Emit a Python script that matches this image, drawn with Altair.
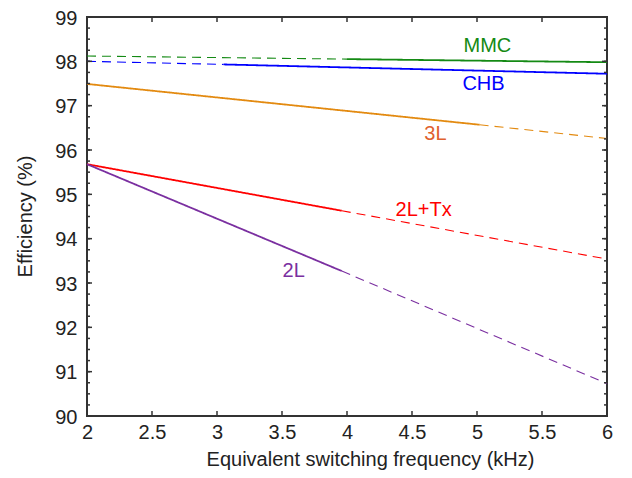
import altair as alt
import pandas as pd

# ---- data ----
series = ["MMC", "CHB", "3L", "2L+Tx", "2L"]
line_colors = ["#148a14", "#0000ff", "#e38a10", "#ff0000", "#7a2fa0"]
label_colors = ["#148a14", "#0000ff", "#e0612e", "#ff0000", "#7a2fa0"]

x_start = [2.0, 2.0, 2.0, 2.0, 2.0]
y_start = [98.12, 98.00, 97.49, 95.68, 95.68]
x_break = [4.00, 3.05, 5.02, 3.96, 3.96]
y_break = [98.05, 97.93, 96.57, 94.63, 93.27]
x_end = [6.0, 6.0, 6.0, 6.0, 6.0]
y_end = [97.98, 97.72, 96.26, 93.54, 90.73]
first_style = ["dashed", "dashed", "solid", "solid", "solid"]
second_style = ["solid", "solid", "dashed", "dashed", "dashed"]

label_x = [5.08, 5.05, 4.68, 4.59, 3.59]
label_y = [98.34, 97.50, 96.37, 94.65, 93.27]

x_ticks = [2, 2.5, 3, 3.5, 4, 4.5, 5, 5.5, 6]
y_ticks = [90, 91, 92, 93, 94, 95, 96, 97, 98, 99]
y_minor = [90 + 0.25 * i for i in range(37)]

# ---- build tables ----
rows = []
for i, s in enumerate(series):
    rows.append(dict(series=s, seg=f"{s}-a", style=first_style[i], x=x_start[i], y=y_start[i]))
    rows.append(dict(series=s, seg=f"{s}-a", style=first_style[i], x=x_break[i], y=y_break[i]))
    rows.append(dict(series=s, seg=f"{s}-b", style=second_style[i], x=x_break[i], y=y_break[i]))
    rows.append(dict(series=s, seg=f"{s}-b", style=second_style[i], x=x_end[i], y=y_end[i]))
df = pd.DataFrame(rows)

labels = pd.DataFrame(dict(label=series, x=label_x, y=label_y, col=label_colors))
xt = pd.DataFrame(dict(v=x_ticks))
yt = pd.DataFrame(dict(v=y_ticks))
ym = pd.DataFrame(dict(v=y_minor))

FONT = "Liberation Sans"
FS = 20
W, H = 520, 399
TICK = "#333"
xs = alt.Scale(domain=[2, 6], nice=False, zero=False)
ys = alt.Scale(domain=[90, 99], nice=False, zero=False)

lines = alt.Chart(df).mark_line().encode(
    x=alt.X("x:Q", scale=xs, axis=alt.Axis(
        orient="bottom", values=x_ticks, format="~g", ticks=False, domain=False, grid=False,
        labelFlush=False, labelPadding=6, labelFontSize=FS, labelColor="#222", labelFont=FONT,
        title="Equivalent switching frequency (kHz)", titleFont=FONT, titleFontSize=FS,
        titleFontWeight="normal", titleColor="#222", titleX=283, titleY=43,
        titleBaseline="middle", titleAlign="center")),
    y=alt.Y("y:Q", scale=ys, axis=alt.Axis(
        orient="left", values=y_ticks, format="~g", ticks=False, domain=False, grid=False,
        labelPadding=10, labelFontSize=FS, labelColor="#222", labelFont=FONT, labelOffset=1,
        title="Efficiency (%)", titleFont=FONT, titleFontSize=FS, titleFontWeight="normal",
        titleColor="#222", titleX=-62, titleY=199, titleAngle=270,
        titleBaseline="middle", titleAlign="center")),
    color=alt.Color("series:N", scale=alt.Scale(domain=series, range=line_colors), legend=None),
    strokeDash=alt.StrokeDash("style:N", scale=alt.Scale(domain=["solid", "dashed"], range=[[1, 0], [9, 6]]), legend=None),
    strokeWidth=alt.StrokeWidth("style:N", scale=alt.Scale(domain=["solid", "dashed"], range=[1.8, 1.1]), legend=None),
    detail="seg:N",
)

texts = alt.Chart(labels).mark_text(font=FONT, fontSize=FS, baseline="middle", align="center").encode(
    x=alt.X("x:Q", scale=xs, axis=None),
    y=alt.Y("y:Q", scale=ys, axis=None),
    text="label:N",
    color=alt.Color("col:N", scale=None),
)


def yticks(data, x0, x1):
    return alt.Chart(data).mark_rule(color=TICK, strokeWidth=1.5).encode(
        y=alt.Y("v:Q", scale=ys, axis=None), x=alt.value(x0), x2=alt.value(x1))


def xticks(data, y0, y1):
    return alt.Chart(data).mark_rule(color=TICK, strokeWidth=1.5).encode(
        x=alt.X("v:Q", scale=xs, axis=None), y=alt.value(y0), y2=alt.value(y1))


layers = [
    lines,
    texts,
    yticks(yt, 0, 5), yticks(ym, 0, 3),
    yticks(yt, W - 5, W), yticks(ym, W - 3, W),
    xticks(xt, H - 5, H), xticks(xt, 0, 5),
]

chart = alt.layer(*layers).resolve_axis(x="independent", y="independent").properties(
    width=W, height=H,
    autosize=alt.AutoSizeParams(type="none"),
    padding={"left": 79, "top": 9, "right": 17, "bottom": 54},
).configure_view(stroke="#333", strokeWidth=2)

chart.save("out.html", embed_options={"renderer": "svg", "actions": False})
